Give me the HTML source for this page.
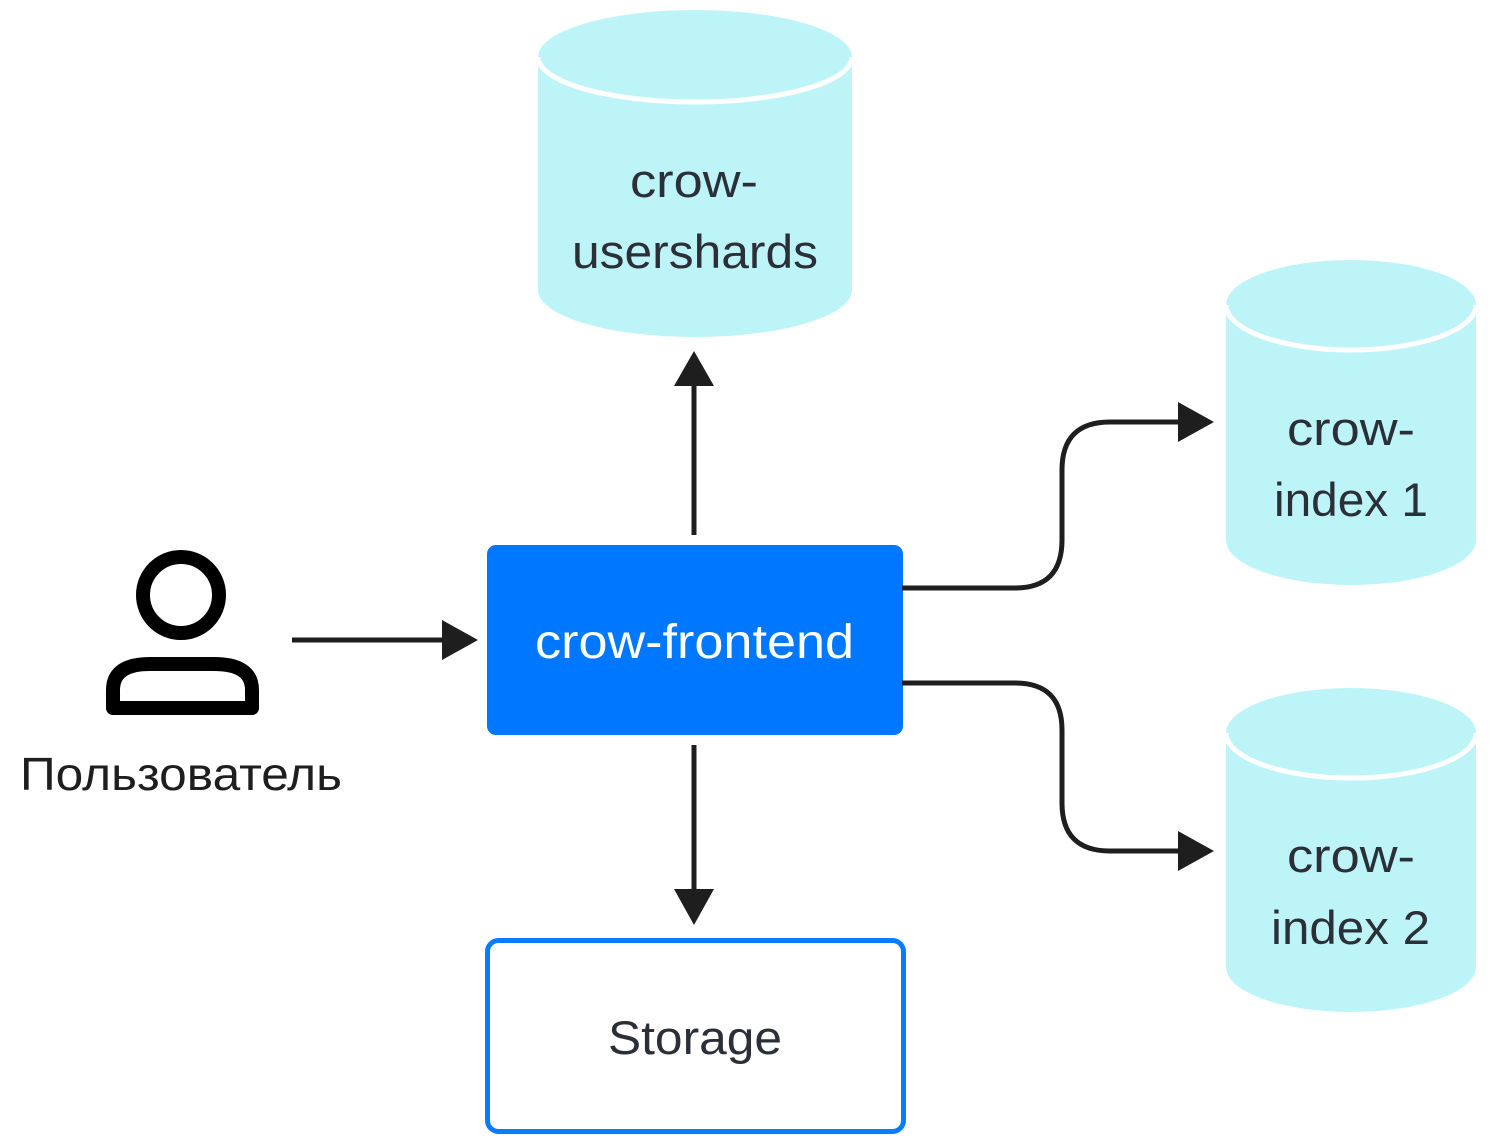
<!DOCTYPE html>
<html><head><meta charset="utf-8"><style>
html,body{margin:0;padding:0;background:#fff;}
svg{display:block;}
text{font-family:"Liberation Sans","DejaVu Sans",sans-serif;}
</style></head><body>
<svg width="1492" height="1144" viewBox="0 0 1492 1144" xmlns="http://www.w3.org/2000/svg">
<g fill="#bdf4f8">
<path d="M538,57 A157,47 0 0 1 852,57 L852,290 A157,47 0 0 1 538,290 Z"/>
<path d="M1226,305 A125,45 0 0 1 1476,305 L1476,540 A125,45 0 0 1 1226,540 Z"/>
<path d="M1226,733 A125,45 0 0 1 1476,733 L1476,967 A125,45 0 0 1 1226,967 Z"/>
</g>
<g fill="none" stroke="#fff" stroke-width="5">
<path d="M538,57 A157,45 0 0 0 852,57"/>
<path d="M1226,305 A125,45 0 0 0 1476,305"/>
<path d="M1226,733 A125,45 0 0 0 1476,733"/>
</g>
<g fill="#2b3038" font-size="47" lengthAdjust="spacingAndGlyphs">
<text x="630" y="197" textLength="128" lengthAdjust="spacingAndGlyphs">crow-</text>
<text x="572" y="268" textLength="246" lengthAdjust="spacingAndGlyphs">usershards</text>
<text x="1287" y="445" textLength="128" lengthAdjust="spacingAndGlyphs">crow-</text>
<text x="1274" y="516" textLength="154" lengthAdjust="spacingAndGlyphs">index 1</text>
<text x="1287" y="872" textLength="128" lengthAdjust="spacingAndGlyphs">crow-</text>
<text x="1271" y="944" textLength="159" lengthAdjust="spacingAndGlyphs">index 2</text>
</g>
<rect x="487" y="545" width="416" height="190" rx="9" fill="#0077ff"/>
<text x="535" y="658" fill="#fff" font-size="48" textLength="319" lengthAdjust="spacingAndGlyphs">crow-frontend</text>
<rect x="487.5" y="940.5" width="416" height="191" rx="11" fill="#fff" stroke="#0a7cff" stroke-width="5"/>
<text x="608" y="1054" fill="#2b3038" font-size="47" textLength="174" lengthAdjust="spacingAndGlyphs">Storage</text>
<g stroke="#1e1e1e" stroke-width="5" fill="none">
<path d="M694,535 V385"/>
<path d="M694,745 V890"/>
<path d="M292,640 H445"/>
<path d="M902,588 H1015 Q1062,588 1062,540 V470 Q1062,422 1110,422 H1180"/>
<path d="M902,683 H1015 Q1062,683 1062,730 V803 Q1062,851 1110,851 H1180"/>
</g>
<g fill="#1e1e1e">
<polygon points="674,386 714,386 694,351"/>
<polygon points="674,889 714,889 694,925"/>
<polygon points="442,620 442,660 478,640"/>
<polygon points="1178,402 1178,442 1214,422"/>
<polygon points="1178,831 1178,871 1214,851"/>
</g>
<g stroke="#000" stroke-width="14" fill="none">
<circle cx="181" cy="595" r="38"/>
<path d="M113,708 V690 Q113,664 150,664 H214 Q252,664 252,690 V708 Z" stroke-linejoin="round"/>
</g>
<text x="20" y="790" fill="#1e1e1e" font-size="46" textLength="322" lengthAdjust="spacingAndGlyphs">Пользователь</text>
</svg>
</body></html>
